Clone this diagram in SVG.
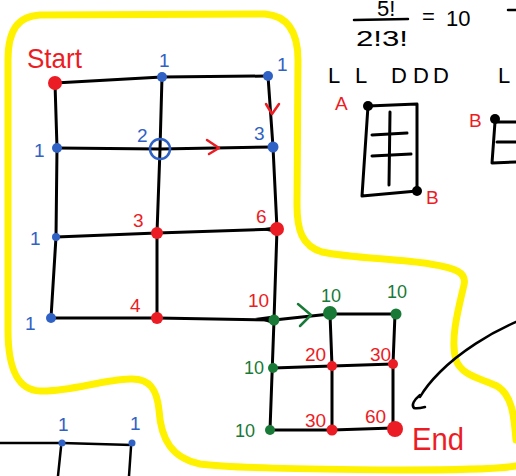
<svg xmlns="http://www.w3.org/2000/svg" width="516" height="476" viewBox="0 0 516 476">
<style>
.ln{fill:none;stroke:#000;stroke-width:3;stroke-linecap:round;stroke-linejoin:round}
.thin{fill:none;stroke:#000;stroke-width:2.5;stroke-linecap:round;stroke-linejoin:round}
.yel{fill:none;stroke:#fff200;stroke-width:7;stroke-linecap:round;stroke-linejoin:round}
.chev{fill:none;stroke-width:2.5;stroke-linecap:round;stroke-linejoin:round}
.b{fill:#2f62c4}.r{fill:#ec1c24}.g{fill:#187a36}.k{fill:#000}
text{font-family:"Liberation Sans","DejaVu Sans",sans-serif}
.tb{fill:#2f62c4;font-size:19px}
.tr{fill:#ec1c24;font-size:19px}
.tg{fill:#187a36;font-size:18px}
.tk{fill:#000;font-size:22px}
</style>
<rect width="516" height="476" fill="#fff"/>
<!-- yellow boundary -->
<path class="yel" d="M516,440 C514,415 512,395 497,386 C480,378 462,376 456,360 C450,340 458,310 464,285 C467,272 455,268 430,264 C400,259 350,258 322,252 C302,246 297,230 297,205 L298,60 C298,35 290,16 265,14 L40,15 C18,16 8,30 8,60 L8,330 C8,370 18,390 40,391 C70,392 100,380 130,379 C150,378 157,390 159,410 C161,440 172,458 200,464 C230,468 300,469 400,470 C470,470 505,468 516,466"/>
<!-- connectors -->
<g id="connectors">
<path class="ln" d="M55,83 L162,77 L268,76"/>
<path class="ln" d="M57,148 L160,149 L273,147"/>
<path class="ln" d="M56,237 L157,233 L277,229"/>
<path class="ln" d="M51,318 L157,318 L274,320"/>
<path class="ln" d="M55,83 L57,148 L56,237 L51,318"/>
<path class="ln" d="M162,77 L160,149 L157,233 L157,318"/>
<path class="ln" d="M268,76 L273,147 L277,229 L274,320 L270,430"/>
<path d="M255,318 L270,316 L270,323 Z" fill="#000"/>
<path d="M258,229 L272,227 L272,232 Z" fill="#000"/>
<path class="ln" d="M274,320 L330,314 L395,314"/>
<path class="ln" d="M273,368 L332,366 L393,364"/>
<path class="ln" d="M270,430 L332,430 L393,428"/>
<path class="ln" d="M330,314 L332,366 L332,430"/>
<path class="ln" d="M395,314 L393,364 L393,428"/>
<path class="chev" stroke="#ec1c24" d="M266,104 L272,114 L279,104"/>
<path class="chev" stroke="#ec1c24" d="M207,140 L219,148 L209,154"/>
<path class="chev" stroke="#187a36" d="M298,304 L311,315 L300,326"/>
<path class="thin" d="M516,322 C490,333 460,352 440,372 C430,382 424,390 420,397"/>
<path class="thin" d="M420,395 C414,400 411,405 414,408 C417,409 421,408 425,407"/>
<path class="thin" d="M0,443 L62,443 L132,445"/>
<path class="thin" d="M61,447 L58,476"/>
<path class="thin" d="M131,447 L129,476"/>
</g>
<g id="n-start"><circle class="r" cx="55" cy="83" r="7"/><text x="27" y="68" font-size="28" fill="#ec1c24" textLength="55" lengthAdjust="spacingAndGlyphs">Start</text></g>
<g id="n-0-1"><circle class="b" cx="162" cy="77" r="5"/><text class="tb" x="159" y="67">1</text></g>
<g id="n-0-2"><circle class="b" cx="268" cy="76" r="5"/><text class="tb" x="277" y="71">1</text></g>
<g id="n-1-0"><circle class="b" cx="57" cy="148" r="5"/><text class="tb" x="34" y="157">1</text></g>
<g id="n-1-1"><circle cx="160" cy="149" r="10" fill="none" stroke="#2f62c4" stroke-width="2.5"/><text class="tb" x="137" y="142">2</text></g>
<g id="n-1-2"><circle class="b" cx="273" cy="147" r="5.5"/><text class="tb" x="254" y="140">3</text></g>
<g id="n-2-0"><circle class="b" cx="56" cy="237" r="4"/><text class="tb" x="30" y="245">1</text></g>
<g id="n-2-1"><circle class="r" cx="157" cy="233" r="6"/><text class="tr" x="133" y="227">3</text></g>
<g id="n-2-2"><circle class="r" cx="277" cy="229" r="7"/><text class="tr" x="256" y="223">6</text></g>
<g id="n-3-0"><circle class="b" cx="51" cy="318" r="5"/><text class="tb" x="25" y="330" font-size="22">1</text></g>
<g id="n-3-1"><circle class="r" cx="157" cy="318" r="6"/><text class="tr" x="130" y="312" font-size="21">4</text></g>
<g id="n-3-2"><circle class="g" cx="274" cy="320" r="5.5"/><text class="tr" x="248" y="307">10</text></g>
<g id="n-g-0-1"><circle class="g" cx="330" cy="313" r="7"/><text class="tg" x="321" y="302">10</text></g>
<g id="n-g-0-2"><circle class="g" cx="396" cy="314" r="5.5"/><text class="tg" x="387" y="298">10</text></g>
<g id="n-g-1-0"><circle class="g" cx="273" cy="368" r="5"/><text class="tg" x="244" y="374" font-size="16">10</text></g>
<g id="n-g-1-1"><circle class="r" cx="332" cy="366" r="5"/><text class="tr" x="305" y="361" font-size="14">20</text></g>
<g id="n-g-1-2"><circle class="r" cx="393" cy="364" r="5"/><text class="tr" x="370" y="361" font-size="14">30</text></g>
<g id="n-g-2-0"><circle class="g" cx="270" cy="430" r="5"/><text class="tg" x="235" y="437">10</text></g>
<g id="n-g-2-1"><circle class="r" cx="332" cy="430" r="5.5"/><text class="tr" x="305" y="427" font-size="14">30</text></g>
<g id="n-end"><circle class="r" cx="395" cy="429" r="8"/><text class="tr" x="365" y="423" font-size="17">60</text><text x="412" y="450" font-size="32" fill="#ec1c24" textLength="52" lengthAdjust="spacingAndGlyphs">End</text></g>
<g id="formula">
<text class="tk" x="377" y="16" font-size="10">5!</text>
<path class="thin" d="M354,20 L408,19"/>
<text class="tk" x="356" y="46" font-size="20" textLength="52" lengthAdjust="spacingAndGlyphs">2!3!</text>
<text class="tk" x="422" y="24" font-size="20">=</text>
<text class="tk" x="446" y="26" font-size="24">10</text>
<path class="thin" d="M508,10 L516,10"/>
<text class="tk" font-size="31"><tspan x="328" y="83">L</tspan><tspan x="355" y="83">L</tspan><tspan x="391" y="83">D</tspan><tspan x="413" y="83">D</tspan><tspan x="433" y="83">D</tspan></text>
<text class="tk" x="498" y="83" font-size="31">L</text>
</g>
<g id="grid-a">
<path class="ln" d="M368,106 L417,104 L417,191 L362,196 Z"/>
<path class="ln" d="M390,112 L389,185"/>
<path class="ln" d="M372,135 L407,133"/>
<path class="ln" d="M372,156 L411,154"/>
<circle class="k" cx="368" cy="106" r="5"/>
<circle class="k" cx="417" cy="191" r="5"/>
<text class="tr" x="335" y="110" font-size="20">A</text>
<text class="tr" x="426" y="204" font-size="19">B</text>
</g>
<g id="grid-b">
<path class="ln" d="M516,122 L495,122 L492,163 L516,162"/>
<path class="ln" d="M497,142 L516,142"/>
<circle class="k" cx="495" cy="119" r="5"/>
<text class="tr" x="469" y="127" font-size="21">B</text>
</g>
<g id="grid-c">
<circle class="b" cx="62" cy="443" r="3.5"/>
<circle class="b" cx="132" cy="443" r="3.5"/>
<text class="tb" x="58" y="431" font-size="16">1</text>
<text class="tb" x="130" y="430" font-size="18">1</text>
</g>
</svg>
